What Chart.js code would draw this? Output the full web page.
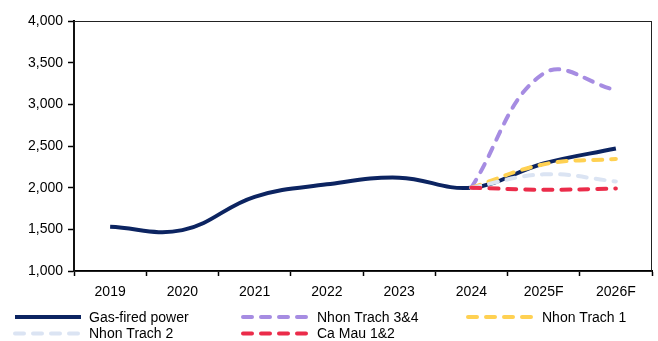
<!DOCTYPE html>
<html lang="en">
<head>
    <meta charset="UTF-8">
    <title>Gas-fired power output</title>
    <script src="https://cdn.jsdelivr.net/npm/chart.js@4.4.1/dist/chart.umd.js"></script>
    <style>
        body { margin: 0; background: #fff; }
        .chart-container { width: 658px; height: 341px; position: relative; }
    </style>
</head>
<body>
    <div class="chart-container">
        <canvas id="gasChart"></canvas>
    </div>
    <script>
        // data
        const years = ['2019', '2020', '2021', '2022', '2023', '2024', '2025F', '2026F'];
        const gasFired = [1530, 1490, 1890, 2040, 2120, 2000, 2290, 2470];
        const nhonTrach34 = [null, null, null, null, null, 2000, 3370, 3170];
        const nhonTrach1 = [null, null, null, null, null, 2000, 2280, 2345];
        const nhonTrach2 = [null, null, null, null, null, 2000, 2160, 2075];
        const caMau12 = [null, null, null, null, null, 2000, 1975, 1990];
        const yTicks = [1000, 1500, 2000, 2500, 3000, 3500, 4000];

        const FONT = 'Liberation Sans, Arial, sans-serif';

        function series(label, data, color, dashed, order) {
            return {
                label: label,
                data: data,
                borderColor: color,
                backgroundColor: color,
                borderWidth: 4,
                borderDash: dashed ? [9, 9] : [],
                borderCapStyle: dashed ? 'round' : 'butt',
                pointRadius: 0,
                tension: 0.4,
                fill: false,
                order: order
            };
        }

        // box round the plot area (thin top and right edges)
        const frame = {
            id: 'frame',
            beforeDatasetsDraw(chart) {
                const a = chart.chartArea, ctx = chart.ctx;
                ctx.save();
                ctx.strokeStyle = '#222';
                ctx.lineWidth = 1;
                ctx.strokeRect(a.left, a.top + 0.5, a.right - a.left - 0.5, a.bottom - a.top);
                ctx.restore();
            }
        };

        // legend laid out in three columns like the original
        const legendCols = [13, 241, 466];
        const gridLegend = {
            id: 'gridLegend',
            afterDraw(chart) {
                const ctx = chart.ctx;
                chart.data.datasets.forEach((ds, i) => {
                    const x = legendCols[i % 3];
                    const y = 317 + Math.floor(i / 3) * 16.5;
                    ctx.save();
                    ctx.strokeStyle = ds.borderColor;
                    ctx.lineWidth = 4;
                    ctx.lineCap = ds.borderCapStyle;
                    ctx.setLineDash(ds.borderDash);
                    ctx.beginPath();
                    ctx.moveTo(x + 2, y);
                    ctx.lineTo(x + 68, y);
                    ctx.stroke();
                    ctx.setLineDash([]);
                    ctx.fillStyle = '#000';
                    ctx.font = '14px ' + FONT;
                    ctx.textBaseline = 'middle';
                    ctx.fillText(ds.label, x + 76, y + 1);
                    ctx.restore();
                });
            }
        };

        const ctx = document.getElementById('gasChart').getContext('2d');
        new Chart(ctx, {
            type: 'line',
            data: {
                labels: years,
                datasets: [
                    series('Gas-fired power', gasFired, '#0c2461', false, 5),
                    series('Nhon Trach 3&4', nhonTrach34, '#a68ce2', true, 4),
                    series('Nhon Trach 1', nhonTrach1, '#ffd152', true, 3),
                    series('Nhon Trach 2', nhonTrach2, '#dbe4f3', true, 2),
                    series('Ca Mau 1&2', caMau12, '#eb2c4a', true, 1)
                ]
            },
            options: {
                responsive: true,
                maintainAspectRatio: false,
                animation: false,
                layout: { padding: { left: 0, top: 21, right: 6, bottom: 45 } },
                plugins: {
                    legend: { display: false },
                    tooltip: { enabled: false }
                },
                scales: {
                    x: {
                        offset: true,
                        border: { color: '#000', width: 2 },
                        grid: { drawOnChartArea: false, offset: true, tickLength: 5, color: '#000', tickWidth: 1.5 },
                        ticks: { color: '#000', font: { family: FONT, size: 14 }, padding: 8, maxRotation: 0 },
                        afterFit(scale) { scale.height = 25; }
                    },
                    y: {
                        min: 1000,
                        max: 4000,
                        afterBuildTicks(scale) { scale.ticks = yTicks.map(v => ({ value: v })); },
                        border: { color: '#000', width: 2 },
                        grid: { drawOnChartArea: false, tickLength: 6, color: '#000', tickWidth: 1.5 },
                        ticks: {
                            color: '#000',
                            font: { family: FONT, size: 14 },
                            padding: 5,
                            callback: v => v.toLocaleString('en-US')
                        },
                        afterFit(scale) { scale.width = 74; }
                    }
                }
            },
            plugins: [frame, gridLegend]
        });
    </script>
</body>
</html>
